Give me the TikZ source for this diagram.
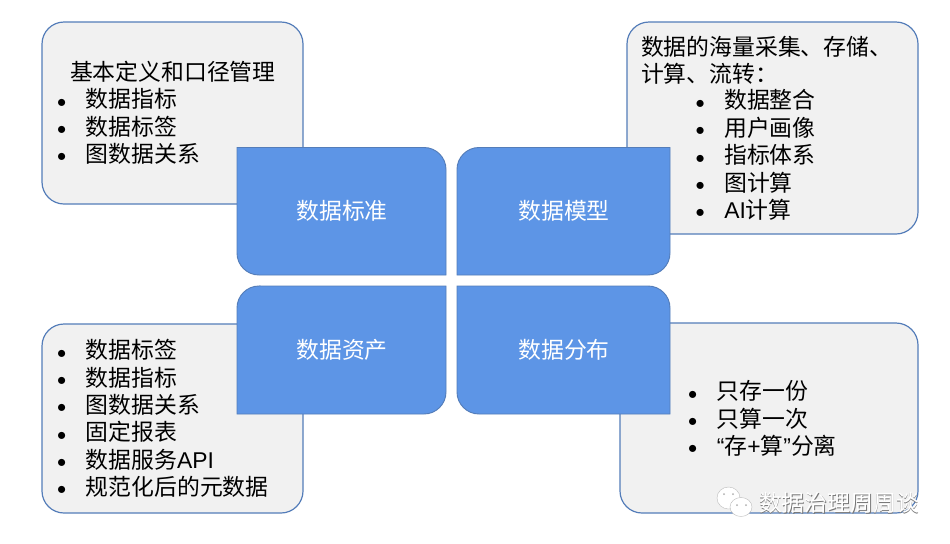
\documentclass[tikz,border=0pt]{standalone}
\usepackage{fontspec}
\setmainfont{Noto Sans CJK SC}
\newfontfamily\latinfont{Liberation Sans}
\definecolor{boxline}{RGB}{84,125,185}
\definecolor{boxgray}{RGB}{241,241,241}
\definecolor{boxblue}{RGB}{93,149,230}
\definecolor{markgray}{RGB}{120,120,120}
\newcommand{\bul}[1]{\makebox[21.6bp][l]{\raisebox{0.5pt}{\scalebox{0.8}{$\bullet$}}}#1}
\newcommand{\lat}[1]{{\latinfont #1}}
\begin{document}
\begin{tikzpicture}[x=0.75bp,y=-0.75bp]
	\tikzstyle{every node}+=[inner sep=0pt,outer sep=0pt]
	\tikzstyle{graybox}=[draw=boxline,fill=boxgray,line width=0.9pt,rounded corners=16.5bp]
	\tikzstyle{bluebox}=[draw=boxline,fill=boxblue,line width=0.7pt]
	\tikzstyle{listtext}=[anchor=west,align=left,font=\fontsize{17.2}{20.6}\selectfont]
	\tikzstyle{boxtitle}=[text=white,font=\fontsize{17.2}{20.6}\selectfont]
	\tikzstyle{bubble}=[fill=white,draw=markgray!50,line width=0.3pt]
	\tikzstyle{marktext}=[anchor=west,font=\fontsize{17.2}{20}\selectfont]
	\useasboundingbox (0,0) rectangle (950,544);
	\fill [white] (0,0) rectangle (950,544);
	% gray boxes
	\draw [graybox] (42,22) rectangle (303,204);
	\draw [graybox] (627,22) rectangle (918,234);
	\draw [graybox] (42,324) rectangle (303,513);
	\draw [graybox] (620,323) rectangle (918,513);
	% blue boxes, one square corner each
	\draw [bluebox] (237,147.5) -- (424,147.5) arc (90:0:16.5bp) -- (446,275) -- (259,275) arc (270:180:16.5bp) -- cycle;
	\draw [bluebox] (670,147.5) -- (670,253) arc (0:-90:16.5bp) -- (457,275) -- (457,169.5) arc (180:90:16.5bp) -- cycle;
	\draw [bluebox] (259,286) -- (446,286) -- (446,392) arc (0:-90:16.5bp) -- (237,414) -- (237,308) arc (180:90:16.5bp) -- cycle;
	\draw [bluebox] (457,286) -- (648,286) arc (90:0:16.5bp) -- (670,414) -- (479,414) arc (270:180:16.5bp) -- cycle;
	\node [boxtitle] (standard) at (342,211) {数据标准};
	\node [boxtitle] (model) at (564,211) {数据模型};
	\node [boxtitle] (asset) at (342,349.5) {数据资产};
	\node [boxtitle] (spread) at (564,349.5) {数据分布};
	% lists
	\node [listtext] (stdhead) at (70,72) {基本定义和口径管理};
	\node [listtext] (stdlist) at (57,126.5) {\bul{数据指标}\\\bul{数据标签}\\\bul{图数据关系}};
	\node [listtext] (modelhead) at (641,60) {数据的海量采集、存储、\\计算、流转：};
	\node [listtext] (modellist) at (695.5,155) {\bul{数据整合}\\\bul{用户画像}\\\bul{指标体系}\\\bul{图计算}\\\bul{\lat{AI}计算}};
	\node [listtext] (assetlist) at (57,418.5) {\bul{数据标签}\\\bul{数据指标}\\\bul{图数据关系}\\\bul{固定报表}\\\bul{数据服务\lat{API}}\\\bul{规范化后的元数据}};
	\node [listtext] (spreadlist) at (688,418.5) {\bul{只存一份}\\\bul{只算一次}\\\bul{\lat{“}存\lat{+}算\lat{”}分离}};
	% watermark
	\draw [bubble] (728.5,498) circle (11.5 and 11);
	\fill [markgray!60] (724,494) circle (1) (733,494) circle (1);
	\draw [bubble] (741,507) circle (11 and 9.5);
	\fill [markgray!60] (737,505) circle (1) (746,505) circle (1);
	\node [marktext,text=markgray] (markshadow) at (759.7,503.7) {数据治理周周谈};
	\node [marktext,text=white] (mark) at (759,503) {数据治理周周谈};
\end{tikzpicture}
\end{document}
